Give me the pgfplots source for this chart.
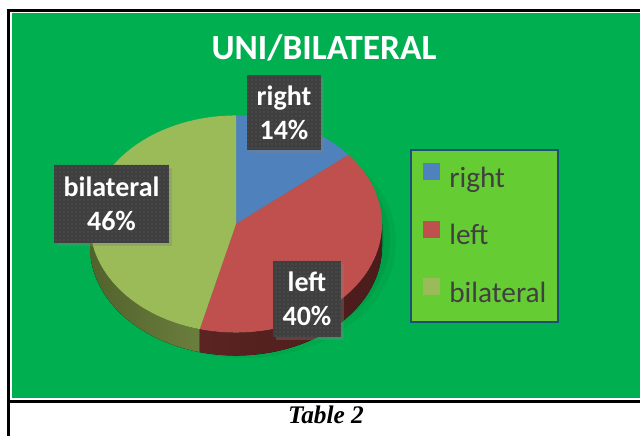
\documentclass[border=0pt]{standalone}
\usepackage{pgfplots}
\pgfplotsset{compat=1.18}
\usepackage{fontspec}
\setmainfont{Carlito}
\newfontfamily\capfont{Liberation Serif}
\usetikzlibrary{shadows,patterns}
\definecolor{bggreen}{HTML}{00B050}
\definecolor{pieblue}{HTML}{4F81BD}
\definecolor{piered}{HTML}{C0504D}
\definecolor{piegreen}{HTML}{9BBB59}
\definecolor{redsideA}{HTML}{4A1C1B}
\definecolor{redsideB}{HTML}{5A2422}
\definecolor{greensideA}{HTML}{52622D}
\definecolor{greensideB}{HTML}{738842}
\definecolor{lblgray}{HTML}{3F3F3F}
\definecolor{legfill}{HTML}{66CC33}
\definecolor{legborder}{HTML}{1F4E79}
\definecolor{legtext}{HTML}{404040}
% data (percent)
\def\vR{14}\def\vL{40}\def\vB{46}
\pgfmathsetmacro\aA{90}
\pgfmathsetmacro\aB{\aA-3.6*\vR}
\pgfmathsetmacro\aC{\aB-3.6*\vL}
\pgfmathsetmacro\aD{\aC-3.6*\vB}
\def\cx{236}\def\cy{212}
\begin{document}
\begin{tikzpicture}[
  lbl/.style={fill=lblgray, text=white, font=\bfseries\fontsize{21}{25.5}\selectfont,
    align=center, inner sep=0pt,
    drop shadow={shadow xshift=2.5pt, shadow yshift=-2.5pt, opacity=0.35},
    postaction={pattern=dots, pattern color=white!18!lblgray}}]
\begin{axis}[
  width=480pt, height=327pt, scale only axis,
  xmin=0, xmax=640, ymin=0, ymax=436,
  hide axis, clip=false,
  legend cell align=left,
  legend image code/.code={\fill[#1, draw=none] (0pt,0pt) rectangle (12.75pt,12.75pt);},
  legend style={at={(0.6406,0.6583)}, anchor=north west,
    draw=legborder, line width=1.5pt, fill=legfill,
    font=\fontsize{22}{26}\selectfont, text=legtext,
    inner xsep=9pt, inner ysep=10pt, row sep=19.75pt,
    nodes={inner sep=0pt, text height=16pt, text depth=5pt, text=legtext},
    /tikz/every odd column/.style={column sep=7pt}},
]
\addlegendimage{fill=pieblue, draw=none}
\addlegendentry{right}
\addlegendimage{fill=piered, draw=none}
\addlegendentry{left}
\addlegendimage{fill=piegreen, draw=none}
\addlegendentry{bilateral}
\coordinate (BL) at (axis cs:0,0);
\coordinate (TR) at (axis cs:640,436);
% background and frame
\fill[white] (axis cs:0,0) rectangle (axis cs:645,436);
\fill[bggreen] (axis cs:12,38) rectangle (axis cs:645,423);
\fill[black] (axis cs:7,0) rectangle (axis cs:10,426.7);
\fill[black] (axis cs:7,424) rectangle (axis cs:645,426.7);
\fill[black] (axis cs:7,33.3) rectangle (axis cs:645,35.5);
% title
\node[anchor=base, text=white, font=\bfseries\fontsize{26.5}{30}\selectfont] at (axis cs:324,376) {UNI/BILATERAL};
% soft shadow
\fill[black, opacity=0.05] (axis cs:244,194) ellipse[x radius=114pt, y radius=87pt];
\fill[black, opacity=0.05] (axis cs:242,196) ellipse[x radius=111pt, y radius=84pt];
\fill[black, opacity=0.05] (axis cs:240,198) ellipse[x radius=108pt, y radius=81pt];
% sides
\fill[left color=redsideB, right color=redsideA]
  (axis cs:\cx,\cy) ++(0:109.5pt and 81.4pt) arc[start angle=0, end angle=\aC, x radius=109.5pt, y radius=81.4pt]
  -- ++(0pt,-17.25pt) arc[start angle=\aC, end angle=0, x radius=109.5pt, y radius=81.4pt] -- cycle;
\fill[left color=greensideA, right color=greensideB]
  (axis cs:\cx,\cy) ++(\aC:109.5pt and 81.4pt) arc[start angle=\aC, end angle=-180, x radius=109.5pt, y radius=81.4pt]
  -- ++(0pt,-17.25pt) arc[start angle=-180, end angle=\aC, x radius=109.5pt, y radius=81.4pt] -- cycle;
% top faces
\fill[pieblue] (axis cs:\cx,\cy) -- ++(\aA:109.5pt and 81.4pt) arc[start angle=\aA, end angle=\aB, x radius=109.5pt, y radius=81.4pt] -- cycle;
\fill[piered] (axis cs:\cx,\cy) -- ++(\aB:109.5pt and 81.4pt) arc[start angle=\aB, end angle=\aC, x radius=109.5pt, y radius=81.4pt] -- cycle;
\fill[piegreen] (axis cs:\cx,\cy) -- ++(\aC:109.5pt and 81.4pt) arc[start angle=\aC, end angle=\aD, x radius=109.5pt, y radius=81.4pt] -- cycle;
% data labels
\node[lbl, minimum width=55.5pt, minimum height=56pt] at (axis cs:284,323.5) {right\\14\%};
\node[lbl, minimum width=86pt, minimum height=58.5pt] at (axis cs:111.5,232) {bilateral\\46\%};
\node[lbl, minimum width=51pt, minimum height=57pt] at (axis cs:307,137) {left\\40\%};
% caption
\node[anchor=base, font=\capfont\bfseries\itshape\fontsize{19}{22}\selectfont] at (axis cs:326,12) {Table 2};
\end{axis}
\pgfresetboundingbox
\useasboundingbox (BL) rectangle (TR);
\end{tikzpicture}
\end{document}
